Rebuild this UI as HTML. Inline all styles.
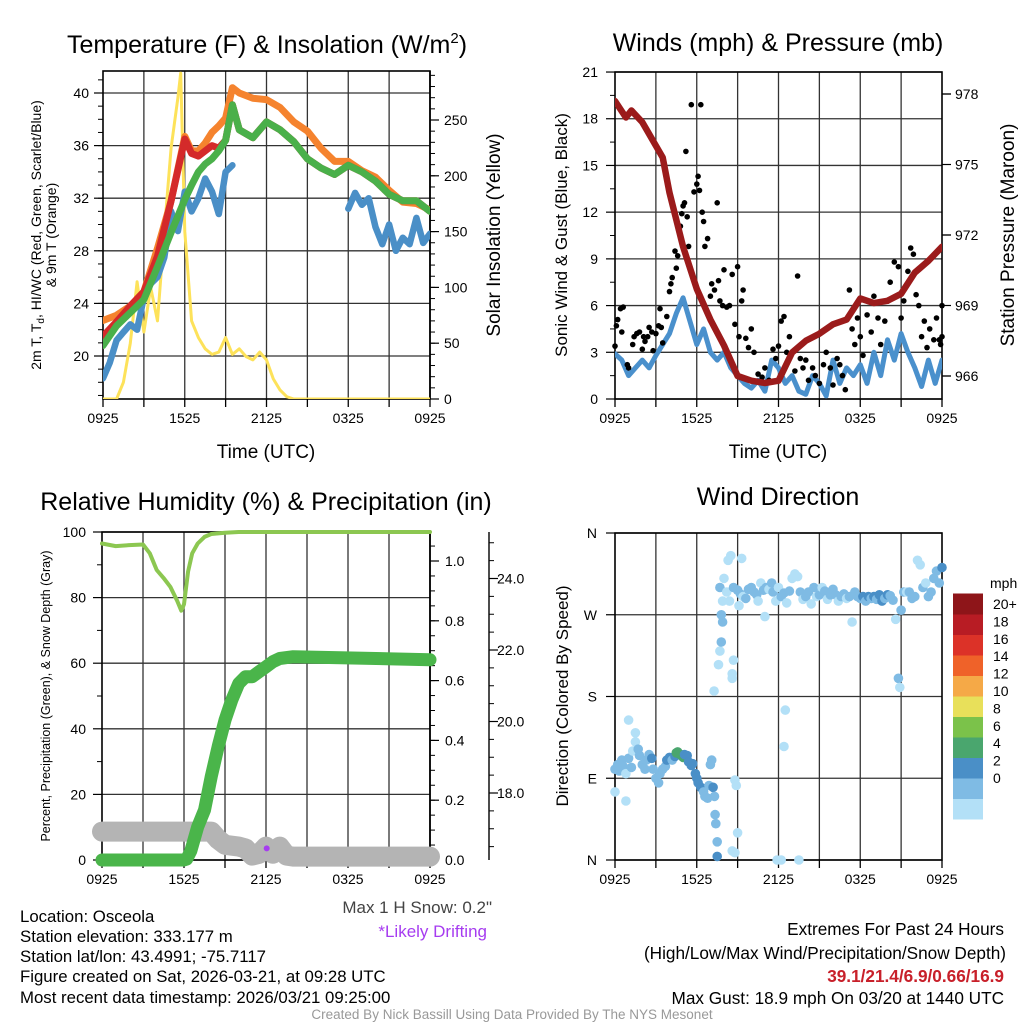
<!DOCTYPE html>
<html><head><meta charset="utf-8"><style>
html,body{margin:0;padding:0;background:#fff;}
svg{display:block;font-family:"Liberation Sans",Arial,sans-serif;}
</style></head><body>
<svg id="chart" width="1024" height="1024" viewBox="0 0 1024 1024" xmlns="http://www.w3.org/2000/svg">
<defs>
<clipPath id="c1"><rect x="103" y="71" width="327" height="328"/></clipPath>
<clipPath id="c2"><rect x="615" y="72" width="327" height="327"/></clipPath>
<clipPath id="c3"><rect x="90" y="520" width="360" height="352"/></clipPath>
<clipPath id="c4"><rect x="608" y="525" width="342" height="342"/></clipPath>
</defs>
<g id="static">
<text x="267" y="53" font-size="25" text-anchor="middle">Temperature (F) &amp; Insolation (W/m<tspan font-size="15" dy="-10">2</tspan><tspan dy="10">)</tspan></text>
<text x="778" y="51" font-size="25" text-anchor="middle">Winds (mph) &amp; Pressure (mb)</text>
<text x="266" y="510" font-size="25" text-anchor="middle">Relative Humidity (%) &amp; Precipitation (in)</text>
<text x="778" y="505" font-size="25" text-anchor="middle">Wind Direction</text>
<text x="266" y="458" font-size="19" text-anchor="middle">Time (UTC)</text>
<text x="778" y="458" font-size="19" text-anchor="middle">Time (UTC)</text>
<text transform="translate(41,235) rotate(-90)" font-size="14" text-anchor="middle">2m T, T<tspan font-size="10" dy="3">d</tspan><tspan dy="-3">, HI/WC (Red, Green, Scarlet/Blue)</tspan></text>
<text transform="translate(56,235) rotate(-90)" font-size="14" text-anchor="middle">&amp; 9m T (Orange)</text>
<text transform="translate(500,235) rotate(-90)" font-size="19" text-anchor="middle">Solar Insolation (Yellow)</text>
<text transform="translate(567,235) rotate(-90)" font-size="17" text-anchor="middle">Sonic Wind &amp; Gust (Blue, Black)</text>
<text transform="translate(1014,235) rotate(-90)" font-size="19" text-anchor="middle">Station Pressure (Maroon)</text>
<text transform="translate(50,696) rotate(-90)" font-size="12.5" text-anchor="middle">Percent, Precipitation (Green), &amp; Snow Depth (Gray)</text>
<text transform="translate(568,696) rotate(-90)" font-size="17" text-anchor="middle">Direction (Colored By Speed)</text>
<text x="990" y="588" font-size="14">mph</text>
<g font-size="16.8" fill="#000">
<text x="20" y="922">Location: Osceola</text>
<text x="20" y="942">Station elevation: 333.177 m</text>
<text x="20" y="962">Station lat/lon: 43.4991; -75.7117</text>
<text x="20" y="982">Figure created on Sat, 2026-03-21, at 09:28 UTC</text>
<text x="20" y="1003">Most recent data timestamp: 2026/03/21 09:25:00</text>
</g>
<text x="492" y="913" font-size="17" fill="#444" text-anchor="end">Max 1 H Snow: 0.2"</text>
<text x="487" y="937" font-size="17" fill="#a63cf0" text-anchor="end">*Likely Drifting</text>
<g font-size="17.2" text-anchor="end">
<text x="1004" y="935">Extremes For Past 24 Hours</text>
<text x="1006" y="959">(High/Low/Max Wind/Precipitation/Snow Depth)</text>
<text x="1004" y="982" fill="#c8202a" font-weight="bold">39.1/21.4/6.9/0.66/16.9</text>
<text x="1004" y="1004">Max Gust: 18.9 mph On 03/20 at 1440 UTC</text>
</g>
<text x="512" y="1019" font-size="13.5" fill="#999" text-anchor="middle">Created By Nick Bassill Using Data Provided By The NYS Mesonet</text>
</g>
</svg>
<script>
// ---------- data ----------
const timeLabels = ["0925","1525","2125","0325","0925"];
const tempHours = [0,1,2,3,4,5,6,6.5,7,7.5,8,8.5,9,9.5,10,11,12,13,14,15,16,17,18,19,20,21,22,23,24];
const temp9m   = [22.7,23.1,23.8,24.9,28.2,31.8,36.7,35.6,35.6,36.2,37.0,37.5,38.1,40.4,40.0,39.6,39.5,38.9,37.8,37.1,35.8,34.8,34.8,34.1,33.6,32.6,31.7,31.6,31.1];
const temp2m   = [21.5,22.6,23.8,24.9,27.6,31.8,36.5,35.4,35.2,35.6,36.0,35.8,36.4,39.1,37.2,36.6,37.8,37.2,36.3,35.0,34.3,33.8,34.5,34.0,33.3,32.3,31.8,31.8,31.0];
const tempHI   = [20.8,22.3,23.3,24.3,26.8,29.4,31.9,33.0,34.0,34.6,35.0,35.6,36.4,39.1,37.2,36.6,37.8,37.2,36.3,35.0,34.3,33.8,34.5,34.0,33.3,32.3,31.8,31.8,31.0];
const dewHours = [0,0.5,1,1.5,2,2.5,3,3.5,4,4.5,5,5.5,6,6.5,7,7.5,8,8.5,9,9.5,9.7,17.8,18,18.5,19,19.5,20,20.5,21,21.5,22,22.5,23,23.5,24];
const dewpoint = [18.3,19.5,21.2,21.8,22.4,22.0,24.5,25.5,26.0,27.5,31.0,29.5,32.5,31.0,32.0,33.5,32.5,30.8,34.0,34.5,null,null,31.2,32.4,31.5,32.0,29.8,28.5,30.0,28.0,29.0,28.5,30.5,28.6,29.3];
const solarHours = [0,0.5,1,1.5,2,2.5,3,3.5,4,4.5,5,5.5,5.7,6,6.5,7,7.5,8,8.5,9,9.5,10,10.5,11,11.5,12,12.5,13,13.5,14,24];
const solar = [0,0,0,15,50,105,60,100,70,150,225,270,292,150,70,55,45,40,42,55,40,45,38,35,42,35,18,8,2,0,0];

const windHours = [0,0.5,1,1.5,2,2.5,3,3.5,4,4.5,5,5.5,6,6.5,7,7.5,8,8.5,9,9.5,10,10.5,11,11.5,12,12.5,13,13.5,14,14.5,15,15.5,16,16.5,17,17.5,18,18.5,19,19.5,20,20.5,21,21.5,22,22.5,23,23.5,24];
const windSpeed = [2.9,2.5,1.5,2.0,2.5,2.0,2.8,3.5,4.2,5.5,6.5,5.0,3.5,4.5,3.0,2.5,3.0,2.0,1.5,1.0,0.7,1.2,0.5,2.5,2.0,1.0,1.5,0.5,0.3,1.5,1.0,0.2,2.5,1.0,2.0,1.5,2.2,1.0,3.0,1.5,3.8,2.5,4.2,3.0,2.0,0.8,2.5,1.0,2.5];
const pressHours = [0,0.8,1.2,2,3,3.5,4,5,6,7,8,9,10,11,12,13,14,15,16,17,18,19,20,21,22,23,24];
const pressure = [977.7,977.0,977.3,976.8,975.8,975.3,973.8,971.5,969.7,968.4,967.3,966.0,965.8,965.7,965.8,967.0,967.5,967.8,968.2,968.4,969.3,969.1,969.2,969.5,970.4,970.9,971.5];
const gustHours = [0,0.1,0.2,0.4,0.5,0.6,0.9,1.0,1.3,1.4,1.6,1.8,2.0,2.1,2.2,2.4,2.5,2.7,2.8,3.0,3.2,3.3,3.4,3.5,3.8,4.0,4.1,4.2,4.4,4.5,4.6,4.8,4.9,5.0,5.1,5.2,5.3,5.4,5.6,5.8,6.0,6.1,6.2,6.3,6.4,6.5,6.6,6.8,7.0,7.1,7.3,7.5,7.6,7.7,7.9,8.0,8.2,8.4,8.6,8.8,9.0,9.1,9.3,9.4,9.6,9.8,10.0,10.2,10.5,10.8,11.0,11.3,11.6,11.8,12.0,12.2,12.4,12.6,12.8,13.0,13.2,13.4,13.6,13.8,14.0,14.2,14.5,14.7,15.0,15.3,15.5,15.8,16.0,16.3,16.5,16.7,16.9,17.2,17.4,17.6,17.8,18.0,18.2,18.5,18.8,19.0,19.3,19.5,19.8,20.0,20.2,20.5,20.8,21.0,21.2,21.5,21.7,21.9,22.1,22.3,22.5,22.7,22.9,23.1,23.4,23.6,23.9,24.0,23.8,24.0];
const gustSpeed = [3.4,4.7,5.1,5.8,4.3,5.9,2.2,2.0,3.5,4.0,4.2,4.3,3.2,4.0,3.7,4.0,4.6,4.3,3.1,4.2,4.7,5.8,4.6,3.6,5.3,6.9,7.4,7.8,9.5,8.4,9.2,11.1,11.9,12.4,12.6,15.9,11.7,9.8,18.9,13.3,13.8,14.3,13.4,18.9,12.0,11.4,9.8,10.3,6.6,7.4,7.0,12.6,7.6,6.3,6.0,8.3,5.9,6.0,8.0,4.8,8.5,4.0,6.3,7.0,3.9,3.3,4.5,3.0,1.6,1.4,2.0,1.2,3.2,2.6,3.4,5.0,5.3,3.0,4.0,3.0,1.8,7.9,2.6,2.0,2.5,1.2,2.0,1.5,1.0,2.2,3.0,2.0,0.9,2.6,2.2,1.5,0.6,7.0,4.5,3.5,5.2,4.0,2.8,5.4,4.3,6.6,5.2,3.5,5.0,6.3,7.5,8.8,8.5,5.2,6.3,8.2,9.7,9.3,6.7,6.0,4.0,5.0,3.3,4.5,3.8,5.2,3.5,6.0,3.8,4.0];

const rhHours = [0,1,2,3,3.5,4,4.5,5,5.5,5.8,6,6.3,6.6,7,7.5,8,9,10,24];
const rh = [96.5,95.7,96,96.2,93.5,88.4,86,83.3,79,76,78,88,93.5,96.5,98.5,99.4,99.8,100,100];
const precipHours = [0,6,6.2,6.5,7,7.5,8,8.5,9,9.5,10,10.5,11,11.5,12,12.5,13,14,24];
const precip = [0,0,0.003,0.03,0.111,0.167,0.28,0.38,0.468,0.535,0.59,0.613,0.613,0.63,0.646,0.663,0.674,0.68,0.67];
const snowHours = [0,8,8.5,9,10,10.5,11,11.5,12,12.5,13,13.5,14,24];
const snowDepth = [16.92,16.92,16.7,16.55,16.5,16.45,16.25,16.3,16.5,16.3,16.5,16.25,16.22,16.22];
const driftHour = [12.05];
const driftDepth = [16.45];

const dirHours = [0,0.2,0.3,0.5,0.6,0.8,1.0,1.2,1.3,1.5,1.7,1.8,2.0,2.2,2.3,2.5,2.7,2.8,3.0,3.2,3.3,3.5,3.7,3.8,4.0,4.2,4.4,4.5,4.6,4.7,4.8,4.9,5.0,5.1,5.3,5.4,5.6,5.7,5.9,6.0,6.1,6.3,6.5,6.6,6.8,6.9,7.0,7.1,7.2,7.3,7.35,7.4,7.5,7.5,7.6,7.7,7.8,7.9,7.8,7.7,7.9,8.0,8.2,8.3,8.4,8.6,8.6,8.7,8.8,8.9,8.6,8.8,9.0,9.3,7.27,1.0,1.5,0.0,0.8,
8.7,9.0,9.2,9.4,9.6,9.8,10.0,10.2,10.4,10.5,10.7,10.9,11.1,11.3,11.5,11.6,11.8,12.0,12.2,12.4,12.6,12.8,13.0,13.2,13.4,13.6,13.8,14.0,14.2,14.4,14.6,14.8,15.0,15.2,15.4,15.6,15.8,16.0,16.2,16.4,16.6,16.8,17.0,17.2,17.4,17.6,17.8,18.0,18.2,18.4,18.6,18.8,19.0,19.2,19.4,19.6,19.8,20.0,20.2,20.4,20.6,20.8,20.9,21.0,21.2,21.4,21.6,21.8,22.0,22.2,22.4,22.6,22.8,23.0,23.2,23.4,23.6,23.8,24.0,11.0,8.5,9.1,12.5,12.4,11.9,12.2,13.5];
const dirDeg = [100,105,98,110,103,95,112,102,120,130,122,115,105,100,110,116,112,100,90,85,95,100,103,110,113,110,114,118,119,117,116,115,113,116,115,108,104,106,95,90,85,80,75,70,68,82,105,110,80,70,50,40,20,4,215,230,240,262,270,300,285,310,295,330,285,200,205,220,88,82,10,8,30,332,186,154,140,75,65,
300,297,293,290,288,298,300,295,292,285,305,297,300,298,305,295,285,300,290,294,283,296,310,315,312,295,287,290,295,282,300,290,292,300,296,287,292,298,292,285,290,293,288,290,262,295,290,288,290,285,290,288,290,287,292,285,288,292,291,286,265,200,190,275,295,295,295,288,290,330,325,300,305,290,295,310,318,305,322,268,335,280,165,125,0,0,0];
const dirSpeed = [3,3,3,2,3,1,3,3,1,1,3,3,3,2,3,3,5,3,3,3,2,3,3,5,5,3,5,7,7,7,7,7,7,5,5,5,5,5,5,5,5,5,3,3,3,3,3,3,5,3,3,3,3,5,1,1,3,3,3,3,1,1,1,1,1,1,1,1,1,1,1,1,1,1,1,1,1,1,1,
2,2,2,1,3,3,3,2,3,1,1,2,2,1,3,3,1,1,3,3,1,2,1,1,1,3,1,3,3,1,3,1,3,1,3,1,2,3,2,1,3,3,1,2,1,3,3,3,5,3,5,3,5,3,5,5,3,5,3,3,1,3,1,3,3,1,3,3,3,1,1,3,1,3,3,3,3,3,5,1,1,1,1,1,1,1,1];
const speedLabels = ["0","2","4","6","8","10","12","14","16","18","20+"];
const speedColors = ["#b3e0f7","#7fbbe4","#4a8fc7","#4aa66e","#7bc24a","#e8e05a","#f5a947","#ef6229","#dc3228","#b81c24","#8e1519"];

// ---------- helpers ----------
const NS = "http://www.w3.org/2000/svg";
const svg = document.getElementById("chart");
function mk(tag, attrs, parent){
  const e = document.createElementNS(NS, tag);
  for (const k in attrs) e.setAttribute(k, attrs[k]);
  (parent || svg).appendChild(e);
  return e;
}
function X1(h){ return 103 + h*327/24; }
function X2(h){ return 615 + h*327/24; }
function X3(h){ return 102 + h*328/24; }
function Ty(t){ return 93 + (40-t)*13.15; }
function Sy(s){ return 399 - s*1.116; }
function Wy(v){ return 399 - v*15.57; }
function Py(p){ return 376 - (p-966)*23.5; }
function Ry(r){ return 860 - r*3.28; }
function PPy(p){ return 860 - p*299; }
function Sny(s){ return 793 - (s-18)*35.75; }
function Dy(d){ return 860 - d*327/360; }

function pathD(xs, ys, fx, fy){
  let d = "", pen = false;
  for (let i=0;i<xs.length;i++){
    if (ys[i]===null){ pen=false; continue; }
    d += (pen?"L":"M") + fx(xs[i]).toFixed(1) + "," + fy(ys[i]).toFixed(1);
    pen = true;
  }
  return d;
}
function series(name, xs, ys, fx, fy, color, w, clip){
  const p = mk("path", {d: pathD(xs,ys,fx,fy), fill:"none", stroke:color, "stroke-width":w, "stroke-linejoin":"round", "stroke-linecap":"round", "clip-path":"url(#"+clip+")"});
  
  
  return p;
}
function txt(name, x, y, s, size, anchor){
  const t = mk("text", {x:x, y:y, "font-size":size, "text-anchor":anchor||"middle"});
  t.textContent = s;
  
  
  return t;
}
function ln(name, x1,y1,x2,y2, color, w){
  const l = mk("line", {x1:x1,y1:y1,x2:x2,y2:y2, stroke:color, "stroke-width":w});
  
  
  return l;
}
function frame(name, x0, y0, x1, y1, fx, hgrid){
  for (let h=3; h<24; h+=3) ln(name+"-vgrid", fx(h), y0, fx(h), y1, "#333", 1.3);
  hgrid.forEach(y => ln(name+"-hgrid", x0, y, x1, y, "#333", 1.3));
  const r = mk("rect", {x:x0, y:y0, width:x1-x0, height:y1-y0, fill:"none", stroke:"#000", "stroke-width":1.6});
  
  
  for (let h=0; h<=24; h+=3) ln(name+"-xtick", fx(h), y1, fx(h), y1+8, "#000", 1.3);
  for (let i=0;i<timeLabels.length;i++) txt(name+"-xlabel", fx(i*6), y1+24, timeLabels[i], 14);
}
function yAxis(name, x, side, vals, fy, labels, minorVals, lx, anchor){
  vals.forEach((v,i)=>{
    ln(name+"-tick", x, fy(v), x+side*9, fy(v), "#000", 1.2);
    if (labels[i]!=="") txt(name+"-label", lx, fy(v)+5, labels[i], 14, anchor);
  });
  minorVals.forEach(v=> ln(name+"-minor", x, fy(v), x+side*5, fy(v), "#000", 1));
}
function range(a,b,s){ const r=[]; for(let v=a; v<=b+1e-9; v+=s) r.push(+v.toFixed(3)); return r; }

// ---------- panel 1: temperature ----------
const tMaj = [20,24,28,32,36,40];
frame("temp", 103, 71, 430, 399, X1, tMaj.map(Ty));
yAxis("temp-yaxis", 103, -1, tMaj, Ty, tMaj.map(String), range(17,41,1), 89, "end");
const sMaj = [0,50,100,150,200,250];
yAxis("solar-yaxis", 430, 1, sMaj, Sy, sMaj.map(String), range(10,290,10), 444, "start");
ln("solar-axis-line", 430, 71, 430, 399, "#000", 1.6);
series("solar-insolation-line", solarHours, solar, X1, Sy, "#fde25a", 3, "c1");
series("dewpoint-line", dewHours, dewpoint, X1, Ty, "#4a8fc7", 6.5, "c1");
series("temp-9m-line", tempHours, temp9m, X1, Ty, "#f5832e", 7, "c1");
series("temp-2m-line", tempHours, temp2m, X1, Ty, "#d42a2a", 7, "c1");
series("heat-index-line", tempHours, tempHI, X1, Ty, "#4ab04a", 7, "c1");

// ---------- panel 2: winds ----------
const wMaj = [0,3,6,9,12,15,18,21];
frame("wind", 615, 72, 942, 399, X2, wMaj.map(Wy));
yAxis("wind-yaxis", 615, -1, wMaj, Wy, wMaj.map(String), range(1.5,19.5,3), 598, "end");
const pMaj = [966,969,972,975,978];
yAxis("pressure-yaxis", 942, 1, [966,972,978], Py, ["","",""], [], 0, "start");
yAxis("pressure-yaxis-labels", 942, 1, pMaj, Py, pMaj.map(String), [], 955, "start");
series("wind-speed-line", windHours, windSpeed, X2, Wy, "#4a90cc", 5, "c2");
for (let i=0;i<gustHours.length;i++){
  const c = mk("circle", {cx:X2(gustHours[i]).toFixed(1), cy:Wy(gustSpeed[i]).toFixed(1), r:2.8, fill:"#000"});
  
  
}
series("pressure-line", pressHours, pressure, X2, Py, "#9b1b1b", 6.5, "c2");

// ---------- panel 3: RH / precip / snow ----------
const rMaj = [0,20,40,60,80,100];
frame("rh", 102, 532, 430, 860, X3, rMaj.map(Ry));
yAxis("rh-yaxis", 102, -1, rMaj, Ry, rMaj.map(String), range(10,90,20), 86, "end");
ln("precip-axis-line", 430, 532, 430, 860, "#000", 1.6);
const ppMaj = [0,0.2,0.4,0.6,0.8,1.0];
yAxis("precip-yaxis", 430, 1, ppMaj, PPy, ppMaj.map(v=>v.toFixed(1)), range(0.05,1.05,0.05), 445, "start");
ln("snow-axis-line", 489, 532, 489, 860, "#000", 1.4);
const snMaj = [18,20,22,24];
yAxis("snow-yaxis", 489, 1, snMaj, Sny, snMaj.map(v=>v.toFixed(1)), range(16.5,25,0.5), 497, "start");
series("snow-depth-line", snowHours, snowDepth, X3, Sny, "#b4b4b4", 20, "c3");
series("precip-line", precipHours, precip, X3, PPy, "#4ab54a", 13, "c3");
series("rh-line", rhHours, rh, X3, Ry, "#8cc751", 4, "c3");
const dc = mk("circle", {cx:X3(driftHour[0]).toFixed(1), cy:Sny(driftDepth[0]).toFixed(1), r:3, fill:"#a63cf0"});



// ---------- panel 4: direction ----------
const dMaj = [0,90,180,270,360];
frame("direction", 615, 533, 942, 860, X2, dMaj.map(Dy));
yAxis("direction-yaxis", 615, -1, dMaj, Dy, ["N","E","S","W","N"], [], 597, "end");
for (let i=0;i<dirHours.length;i++){
  const k = Math.min(10, Math.floor(dirSpeed[i]/2));
  const c = mk("circle", {cx:X2(dirHours[i]).toFixed(1), cy:Dy(dirDeg[i]).toFixed(1), r:4.8, fill:speedColors[k], "clip-path":"url(#c4)"});
  
  
}
for (let i=0;i<speedColors.length;i++){
  const y = 819 - (i+1)*20.5;
  const r = mk("rect", {x:953, y:y.toFixed(1), width:30, height:21, fill:speedColors[i]});
  
  
  txt("colorbar-label", 993, 778 - i*17.4 + 5, speedLabels[i], 14, "start");
}
</script>
</body></html>
